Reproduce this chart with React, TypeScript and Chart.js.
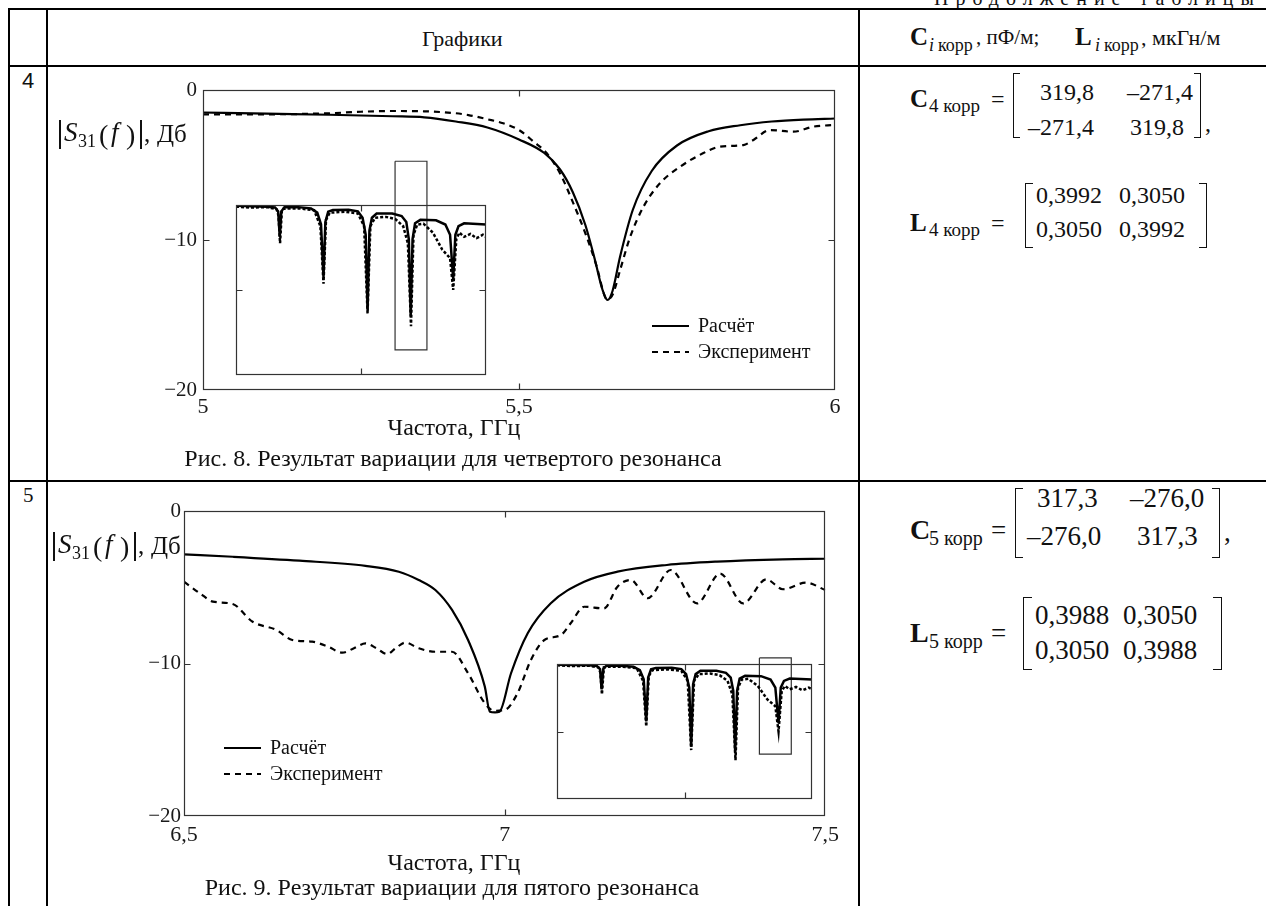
import React, { useEffect, useRef } from "react";
import { Chart, registerables } from "chart.js";

Chart.register(...registerables);

const SERIF = '"Liberation Serif", "Times New Roman", serif';
const SANS = '"Liberation Sans", Arial, sans-serif';

// ---------- Рис. 8 (четвертый резонанс), ГГц / дБ ----------
const fig8CalcFreq = [5.0, 5.1, 5.2, 5.3, 5.35, 5.4, 5.45, 5.5, 5.54, 5.565, 5.585, 5.605, 5.62, 5.632, 5.64, 5.648, 5.66, 5.68, 5.71, 5.75, 5.8, 5.85, 5.9, 5.95, 6.0];
const fig8CalcDb = [-1.5, -1.58, -1.65, -1.75, -1.82, -2.1, -2.5, -3.3, -4.2, -5.3, -6.8, -9.0, -11.3, -13.3, -14.0, -13.4, -11.1, -8.0, -5.4, -3.7, -2.75, -2.35, -2.1, -1.97, -1.9];
const fig8ExpFreq = [5.0, 5.1, 5.2, 5.25, 5.3, 5.35, 5.4, 5.42, 5.45, 5.475, 5.5, 5.523, 5.544, 5.565, 5.586, 5.607, 5.623, 5.636, 5.641, 5.649, 5.66, 5.676, 5.697, 5.723, 5.755, 5.786, 5.818, 5.855, 5.871, 5.897, 5.934, 5.966, 6.0];
const fig8ExpDb = [-1.62, -1.62, -1.55, -1.45, -1.4, -1.42, -1.55, -1.67, -1.95, -2.22, -2.67, -3.44, -4.22, -5.56, -7.56, -9.78, -11.78, -13.78, -13.96, -13.56, -12.0, -9.78, -7.78, -6.22, -5.11, -4.33, -3.78, -3.67, -3.33, -2.67, -2.78, -2.44, -2.33];

// ---------- Рис. 9 (пятый резонанс) ----------
const fig9CalcFreq = [6.5, 6.576, 6.68, 6.783, 6.835, 6.866, 6.892, 6.918, 6.943, 6.969, 6.977, 6.985, 6.992, 7.01, 7.036, 7.072, 7.124, 7.176, 7.253, 7.331, 7.434, 7.5];
const fig9CalcDb = [-2.84, -3.0, -3.26, -3.6, -3.98, -4.52, -5.18, -6.49, -8.46, -11.5, -13.16, -13.2, -13.16, -10.64, -8.02, -6.05, -4.64, -3.98, -3.54, -3.32, -3.17, -3.13];
const fig9ExpFreq = [6.5, 6.525, 6.545, 6.576, 6.607, 6.644, 6.669, 6.7, 6.725, 6.747, 6.765, 6.783, 6.8, 6.817, 6.83, 6.845, 6.866, 6.892, 6.918, 6.943, 6.969, 6.984, 7.0, 7.02, 7.041, 7.062, 7.088, 7.103, 7.124, 7.155, 7.176, 7.197, 7.223, 7.259, 7.3, 7.336, 7.372, 7.408, 7.434, 7.47, 7.5];
const fig9ExpDb = [-4.64, -5.4, -5.94, -6.1, -7.26, -7.8, -8.46, -8.57, -8.9, -9.29, -9.0, -8.68, -9.0, -9.38, -9.0, -8.63, -9.0, -9.23, -9.23, -10.64, -12.6, -13.1, -13.05, -11.96, -9.77, -8.46, -8.13, -7.36, -6.28, -6.39, -4.96, -4.52, -5.72, -3.87, -6.06, -4.1, -6.06, -4.48, -5.13, -4.7, -5.18];

// ---------- inset: full band 0..8 GHz ----------
const insetCalcFreq = [0, 0.5, 1.0, 1.25, 1.35, 1.40, 1.45, 1.55, 2.0, 2.4, 2.6, 2.72, 2.80, 2.86, 2.95, 3.1, 3.6, 3.9, 4.05, 4.15, 4.21, 4.27, 4.35, 4.5, 5.0, 5.3, 5.45, 5.53, 5.59, 5.65, 5.73, 5.9, 6.4, 6.7, 6.85, 6.95, 7.02, 7.12, 7.3, 8.0];
const insetCalcDb = [-0.2, -0.3, -0.4, -0.6, -1.5, -7.5, -1.5, -0.5, -0.5, -0.8, -1.8, -4.5, -17.0, -4.0, -1.6, -1.2, -1.1, -1.5, -3.0, -7.0, -24.5, -6.0, -3.0, -2.0, -2.0, -2.6, -4.0, -8.0, -26.0, -8.0, -4.3, -3.5, -3.6, -4.6, -7.0, -17.5, -7.0, -5.0, -4.3, -4.6];
const insetExpFreq = [0, 0.5, 1.0, 1.3, 1.36, 1.41, 1.47, 1.6, 2.0, 2.5, 2.7, 2.80, 2.88, 3.0, 3.5, 3.9, 4.1, 4.21, 4.3, 4.45, 4.8, 5.1, 5.35, 5.5, 5.60, 5.68, 5.8, 6.0, 6.3, 6.6, 6.85, 6.95, 7.05, 7.15, 7.3, 7.5, 7.7, 7.9, 8.0];
const insetExpDb = [-0.4, -0.6, -0.5, -1.0, -2.5, -9.0, -1.0, -0.8, -0.8, -1.2, -5.0, -18.5, -3.5, -1.8, -1.6, -2.0, -5.0, -25.5, -5.0, -3.0, -2.8, -3.3, -5.0, -9.0, -28.5, -7.0, -4.6, -4.4, -6.5, -10.5, -12.5, -20.0, -8.0, -6.5, -7.5, -6.8, -7.8, -7.0, -7.5];
const fig8BoxFreq = [5.09, 6.11, 6.11, 5.09, 5.09];
const fig8BoxDb = [10.3, 10.3, -34.1, -34.1, 10.3];
const fig9BoxFreq = [6.35, 7.35, 7.35, 6.35, 6.35];
const fig9BoxDb = [1.8, 1.8, -26.7, -26.7, 1.8];

const seriesLabels = ["Расчёт", "Эксперимент"];
const yTicksMain = [0, -10, -20];

const zip = (xs: number[], ys: number[]) => xs.map((x, i) => ({ x, y: ys[i] }));

const frameTicks = {
  id: "frameTicks",
  afterDatasetsDraw(chart: any, _a: any, o: any) {
    const { ctx, chartArea: a, scales } = chart;
    const L = Math.round(a.left) + 0.5, R = Math.round(a.right) - 0.5;
    const T = Math.round(a.top) + 0.5, B = Math.round(a.bottom) - 0.5;
    ctx.save();
    ctx.setLineDash([]);
    ctx.strokeStyle = o.color;
    ctx.lineWidth = o.width;
    ctx.strokeRect(L, T, R - L, B - T);
    ctx.beginPath();
    for (const v of o.xTicks || []) {
      const px = Math.round(scales.x.getPixelForValue(v)) + 0.5;
      ctx.moveTo(px, T); ctx.lineTo(px, T + o.len);
      ctx.moveTo(px, B); ctx.lineTo(px, B - o.len);
    }
    for (const v of o.yTicks || []) {
      const py = Math.round(scales.y.getPixelForValue(v)) + 0.5;
      ctx.moveTo(L, py); ctx.lineTo(L + o.len, py);
      ctx.moveTo(R, py); ctx.lineTo(R - o.len, py);
    }
    ctx.stroke();
    ctx.restore();
  },
};

const lineLegend = {
  id: "lineLegend",
  afterDraw(chart: any, _a: any, o: any) {
    if (!o || !o.show) return;
    const { ctx, chartArea: a } = chart;
    const x0 = a.left + o.dx, y0 = a.top + o.dy;
    chart.data.datasets.forEach((ds: any, i: number) => {
      if (!ds.label) return;
      const y = y0 + i * o.gap;
      ctx.save();
      ctx.strokeStyle = ds.borderColor;
      ctx.lineWidth = ds.borderWidth;
      ctx.setLineDash(ds.borderDash || []);
      ctx.beginPath(); ctx.moveTo(x0, y); ctx.lineTo(x0 + o.len, y); ctx.stroke();
      ctx.setLineDash([]);
      ctx.fillStyle = "#111";
      ctx.font = o.font;
      ctx.textBaseline = "middle";
      ctx.fillText(ds.label, x0 + o.len + o.textGap, y + 1);
      ctx.restore();
    });
  },
};

function mainConfig(p: any) {
  return {
    type: "line",
    data: {
      datasets: [
        { label: seriesLabels[0], data: zip(p.cf, p.cv), borderColor: "#000", borderWidth: 2.2, pointRadius: 0, cubicInterpolationMode: "monotone", fill: false },
        { label: seriesLabels[1], data: zip(p.ef, p.ev), borderColor: "#000", borderWidth: 2.2, borderDash: [6, 5], pointRadius: 0, cubicInterpolationMode: "monotone", fill: false },
      ],
    },
    options: {
      animation: false,
      responsive: false,
      devicePixelRatio: 1,
      events: [],
      layout: { padding: { left: 0, top: p.padTop, right: p.padRight, bottom: 0 } },
      scales: {
        x: {
          type: "linear", min: p.xMin, max: p.xMax,
          grid: { display: false, drawTicks: false }, border: { display: false },
          ticks: { stepSize: 0.5, autoSkip: false, maxRotation: 0, padding: p.xPad, color: "#1a1a1a", font: { family: SERIF, size: 22 }, callback: (v: number) => String(v).replace(".", ",") },
          afterFit: (s: any) => { s.height = 40; },
        },
        y: {
          type: "linear", min: -20, max: 0,
          grid: { display: false, drawTicks: false }, border: { display: false },
          afterBuildTicks: (s: any) => { s.ticks = yTicksMain.map((v) => ({ value: v })); },
          ticks: { padding: p.yPad, color: "#1a1a1a", font: { family: SERIF, size: 21 }, callback: (v: number) => (v === 0 ? "0" : "\u2212" + Math.abs(v)) },
          afterFit: (s: any) => { s.width = p.yw; },
        },
      },
      plugins: {
        legend: { display: false },
        tooltip: { enabled: false },
        frameTicks: { color: "#333", width: 1.2, len: 6, xTicks: p.xTicks, yTicks: [-10] },
        lineLegend: { show: true, dx: p.lgX, dy: p.lgY, gap: 26, len: 37, textGap: 9, font: `20px ${SERIF}` },
      },
    },
    plugins: [frameTicks, lineLegend],
  };
}

function insetConfig(p: any) {
  return {
    type: "line",
    data: {
      datasets: [
        { data: zip(insetCalcFreq, insetCalcDb), borderColor: "#000", borderWidth: 2.5, pointRadius: 0, tension: 0, fill: false },
        { data: zip(insetExpFreq, insetExpDb), borderColor: "#000", borderWidth: 2.5, borderDash: [3, 2], pointRadius: 0, tension: 0, fill: false },
        { data: zip(p.bf, p.bv), borderColor: "#333", borderWidth: 1.2, pointRadius: 0, tension: 0, fill: false, clip: false },
      ],
    },
    options: {
      animation: false,
      responsive: false,
      devicePixelRatio: 1,
      events: [],
      layout: { padding: p.pad },
      scales: {
        x: { type: "linear", min: 0, max: 8, display: false },
        y: { type: "linear", min: -40, max: 0, display: false },
      },
      plugins: {
        legend: { display: false },
        tooltip: { enabled: false },
        frameTicks: { color: "#333", width: 1.2, len: 6, xTicks: [4], yTicks: [-20] },
      },
    },
    plugins: [frameTicks],
  };
}

function ChartBox({ left, top, width, height, config }: any) {
  const ref = useRef<HTMLCanvasElement>(null);
  useEffect(() => {
    const c = new Chart(ref.current as HTMLCanvasElement, config as any);
    return () => c.destroy();
  }, []);
  return (
    <div style={{ position: "absolute", left, top, width, height }}>
      <canvas ref={ref} width={width} height={height} style={{ width, height, display: "block" }} />
    </div>
  );
}

function T({ x, b, fs, children, bold, italic, family, ls, color }: any) {
  return (
    <div style={{ position: "absolute", left: x, top: b - 0.84 * fs, fontSize: fs, lineHeight: `${fs}px`, fontFamily: family || SERIF, fontWeight: bold ? "bold" : "normal", fontStyle: italic ? "italic" : "normal", whiteSpace: "nowrap", letterSpacing: ls || 0, color: color || "#111" }}>
      {children}
    </div>
  );
}

function C({ cx, b, fs, children }: any) {
  return (
    <div style={{ position: "absolute", left: cx - 400, width: 800, textAlign: "center", top: b - 0.84 * fs, fontSize: fs, lineHeight: `${fs}px`, fontFamily: SERIF, whiteSpace: "nowrap", color: "#111" }}>
      {children}
    </div>
  );
}

function Line({ x, y, w, h }: any) {
  return <div style={{ position: "absolute", left: x, top: y, width: w, height: h, background: "#000" }} />;
}

function Bracket({ x, y, w, h, right }: any) {
  const s = "1.6px solid #111";
  return (
    <div style={{ position: "absolute", left: x, top: y, width: w, height: h, boxSizing: "border-box", borderTop: s, borderBottom: s, borderLeft: right ? "none" : s, borderRight: right ? s : "none" }} />
  );
}

function YLabel({ x, top }: any) {
  const b = top + 22;
  return (
    <>
      <div style={{ position: "absolute", left: x, top, width: 1.5, height: 29, background: "#111" }} />
      <T x={x + 5} b={b} fs={27} italic>S</T>
      <T x={x + 19} b={b + 5} fs={18}>31</T>
      <T x={x + 40} b={b + 3} fs={28}>(</T>
      <T x={x + 52} b={b} fs={27} italic>f</T>
      <T x={x + 67} b={b + 3} fs={28}>)</T>
      <div style={{ position: "absolute", left: x + 81, top, width: 1.5, height: 29, background: "#111" }} />
      <T x={x + 85} b={b} fs={25}>,</T>
      <T x={x + 98} b={b} fs={25}>Дб</T>
    </>
  );
}

function Matrix({ name, idx, fs, sfs, rows, bx, bw, bh, by, cols, nb, rb, comma }: any) {
  return (
    <>
      <T x={910} b={nb} fs={fs + 1} bold>{name}</T>
      <T x={929} b={nb + 5} fs={sfs}>{idx} корр</T>
      <T x={991} b={nb} fs={fs}>=</T>
      <Bracket x={bx[0]} y={by} w={bw} h={bh} />
      <Bracket x={bx[1]} y={by} w={bw} h={bh} right />
      {rows.map((r: string[], i: number) =>
        r.map((v: string, j: number) => <T key={`${i}${j}`} x={cols[i][j]} b={rb[i]} fs={fs}>{v}</T>)
      )}
      {comma ? <T x={bx[1] + bw + 4} b={rb[1] - 4} fs={fs}>,</T> : null}
    </>
  );
}

export default function App() {
  const c8 = mainConfig({ cf: fig8CalcFreq, cv: fig8CalcDb, ef: fig8ExpFreq, ev: fig8ExpDb, xMin: 5, xMax: 6, xTicks: [5.5], padTop: 20, padRight: 15, yw: 63, xPad: 4, yPad: 6, lgX: 449, lgY: 236 });
  const c9 = mainConfig({ cf: fig9CalcFreq, cv: fig9CalcDb, ef: fig9ExpFreq, ev: fig9ExpDb, xMin: 6.5, xMax: 7.5, xTicks: [7], padTop: 21, padRight: 16, yw: 64, xPad: 6, yPad: 3, lgX: 40, lgY: 237 });
  const i8 = insetConfig({ bf: fig8BoxFreq, bv: fig8BoxDb, pad: { left: 10, top: 55, right: 10, bottom: 10 } });
  const i9 = insetConfig({ bf: fig9BoxFreq, bv: fig9BoxDb, pad: { left: 10, top: 20, right: 10, bottom: 10 } });

  return (
    <div style={{ position: "absolute", left: 0, top: 0, width: 1266, height: 906, overflow: "hidden", background: "#fff" }}>
      <T x={934} b={5} fs={20} ls={7}>Продолжение таблицы</T>

      {/* table lines */}
      <Line x={8} y={8} w={1266} h={2} />
      <Line x={8} y={65} w={1266} h={2} />
      <Line x={8} y={480} w={1266} h={2} />
      <Line x={8} y={8} w={2} h={906} />
      <Line x={46} y={8} w={2} h={906} />
      <Line x={858} y={8} w={2} h={906} />

      {/* header */}
      <T x={422} b={46} fs={22}>Графики</T>
      <T x={910} b={45} fs={25} bold>C</T>
      <T x={929} b={51} fs={18} italic>i</T>
      <T x={938} b={51} fs={18}>корр</T>
      <T x={976} b={45} fs={21}>, пФ/м;</T>
      <T x={1075} b={45} fs={25} bold>L</T>
      <T x={1095} b={51} fs={18} italic>i</T>
      <T x={1104} b={51} fs={18}>корр</T>
      <T x={1141} b={45} fs={22}>, мкГн/м</T>

      {/* row numbers */}
      <T x={22} b={88} fs={22} family={SANS}>4</T>
      <T x={23} b={503} fs={21}>5</T>

      {/* charts */}
      <ChartBox left={140} top={70} width={710} height={360} config={c8} />
      <ChartBox left={226} top={150} width={270} height={235} config={i8} />
      <ChartBox left={120} top={490} width={725} height={366} config={c9} />
      <ChartBox left={547} top={644} width={275} height={165} config={i9} />

      <YLabel x={59} top={120} />
      <YLabel x={53} top={532} />

      <C cx={454} b={435} fs={24}>Частота, ГГц</C>
      <C cx={453} b={466} fs={24}>Рис. 8. Результат вариации для четвертого резонанса</C>
      <C cx={454} b={870} fs={24}>Частота, ГГц</C>
      <C cx={452} b={895} fs={24}>Рис. 9. Результат вариации для пятого резонанса</C>

      {/* matrices row 4 */}
      <Matrix name="C" idx="4" fs={24} sfs={19} nb={107} bx={[1013, 1194]} bw={7} by={73} bh={65}
        rows={[["319,8", "–271,4"], ["–271,4", "319,8"]]} cols={[[1040, 1127], [1028, 1130]]} rb={[100, 135]} comma />
      <Matrix name="L" idx="4" fs={24} sfs={19} nb={231} bx={[1025, 1199]} bw={8} by={183} bh={65}
        rows={[["0,3992", "0,3050"], ["0,3050", "0,3992"]]} cols={[[1036, 1119], [1036, 1119]]} rb={[203, 237]} />

      {/* matrices row 5 */}
      <Matrix name="C" idx="5" fs={27} sfs={20} nb={540} bx={[1015, 1212]} bw={8} by={488} bh={70}
        rows={[["317,3", "–276,0"], ["–276,0", "317,3"]]} cols={[[1037, 1130], [1027, 1137]]} rb={[508, 546]} comma />
      <Matrix name="L" idx="5" fs={27} sfs={20} nb={643} bx={[1023, 1213]} bw={9} by={597} bh={73}
        rows={[["0,3988", "0,3050"], ["0,3050", "0,3988"]]} cols={[[1035, 1123], [1035, 1123]]} rb={[625, 660]} />
    </div>
  );
}
